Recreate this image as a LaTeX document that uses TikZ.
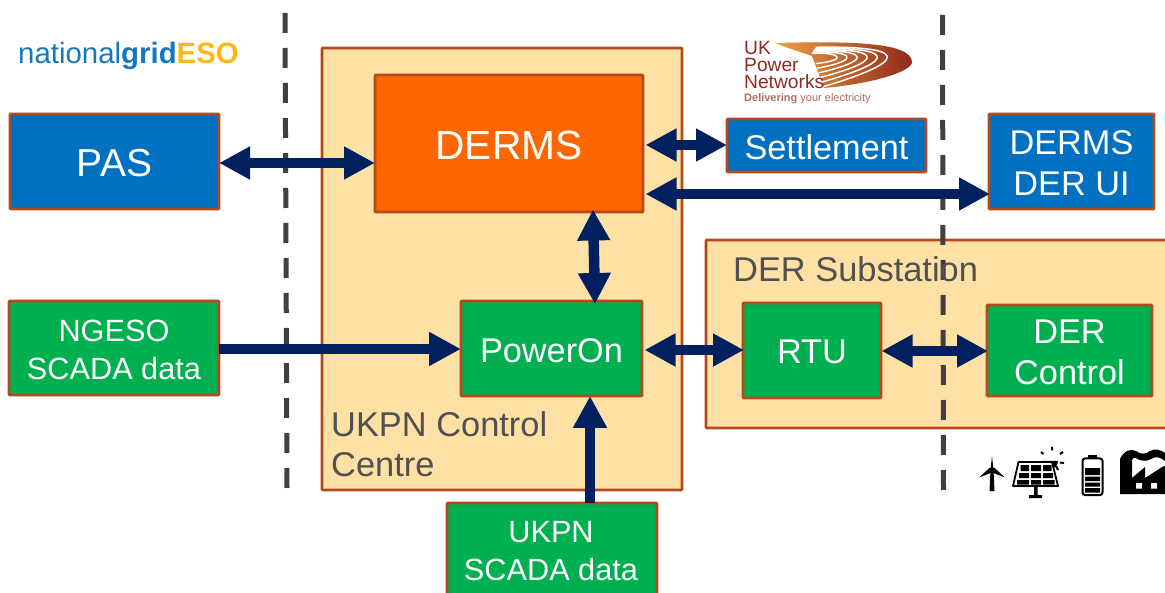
\documentclass[tikz,border=0pt]{standalone}
\usepackage{fontspec}
\setmainfont{Liberation Sans}
\usetikzlibrary{arrows.meta}
\definecolor{edgebr}{HTML}{B5491C}
\definecolor{bluebx}{HTML}{0070C0}
\definecolor{greenbx}{HTML}{00B050}
\definecolor{orangebx}{HTML}{FF6600}
\definecolor{sandbx}{HTML}{FFE1A6}
\definecolor{navyar}{HTML}{002060}
\definecolor{greytx}{HTML}{505050}
\definecolor{ngblue}{HTML}{1478C0}
\definecolor{ngyellow}{HTML}{FDB913}
\definecolor{ukred}{HTML}{8E2A1E}
\definecolor{ukor}{HTML}{F0A040}
\tikzset{
 x=1pt,y=-1pt,
 box/.style={draw=edgebr,line width=2.6pt,outer sep=0pt,anchor=north west,inner sep=0pt,align=center,text=white,rounded corners=0.8pt,font=\fontsize{34.3}{41}\selectfont},
 bluebox/.style={box,fill=bluebx},
 greenbox/.style={box,fill=greenbx},
 smalltext/.style={font=\fontsize{30.7}{37.5}\selectfont},
 zone/.style={box,fill=sandbx,text=greytx},
 dual/.style={navyar,line width=10.5pt,{Triangle[length=31pt,width=31pt]}-{Triangle[length=31pt,width=31pt]},shorten <=2.5pt,shorten >=-1pt},
 single/.style={navyar,line width=10.5pt,-{Triangle[length=32pt,width=32pt]}},
 divider/.style={draw=black!75,line width=5pt,dash pattern=on 20pt off 15pt},
 zonelabel/.style={text=greytx,anchor=west,align=left,inner sep=0pt,font=\fontsize{34.4}{40}\selectfont},
}
\newcommand{\rbox}[7]{\node[#1,minimum width=#4pt-#2pt,minimum height=#5pt-#3pt] (#6) at (#2,#3) {};
 \node[#1,draw=none,fill=none,anchor=center] (#6text) at ([yshift=-1.8pt]#6.center) {#7};}
\begin{document}
\begin{tikzpicture}
\useasboundingbox (0,0) rectangle (1165,593);
\clip (0,0) rectangle (1165,593);
% zones
\rbox{zone}{322}{48}{682}{490}{ukpn}{}
\rbox{zone}{706}{240}{1180}{428}{sub}{}
% dividers
\coordinate (d1a) at (285,13); \coordinate (d1b) at (287,488);
\coordinate (d2a) at (942.5,15); \coordinate (d2b) at (943.5,490);
\draw[divider] (d1a) -- (d1b);
\draw[divider] (d2a) -- (d2b);
% boxes
\rbox{bluebox,font=\fontsize{39}{44}\selectfont}{10}{114}{219}{209}{pas}{PAS}
\rbox{box,fill=orangebx,font=\fontsize{40.7}{46}\selectfont}{375}{75}{643}{212}{derms}{DERMS}
\rbox{bluebox}{727}{119}{926}{172}{settle}{Settlement}
\rbox{bluebox}{989}{114}{1154}{209}{derui}{DERMS\\DER UI}
\rbox{greenbox,smalltext}{9}{301}{219}{395}{ngeso}{NGESO\\SCADA data}
\rbox{greenbox}{461}{301}{642}{396}{poweron}{PowerOn}
\rbox{greenbox}{743}{303}{881}{398}{rtu}{RTU}
\rbox{greenbox}{987}{305}{1152}{396}{dercontrol}{DER\\Control}
\rbox{greenbox}{447}{503}{657}{610}{ukpnscada}{}
\node[text=white,align=center,inner sep=0pt,smalltext] (ukpnlabel) at (551,551) {UKPN\\SCADA data};
% zone labels
\node[zonelabel] (ukpnzone) at (331,444) {UKPN Control\\Centre};
\node[zonelabel] (subzone) at (733,269) {DER Substation};
% connectors
\draw[dual,shorten <=0pt,shorten >=0pt] (pas.east |- 0,163) -- (derms.west |- 0,163);
\draw[dual,shorten >=0pt] (derms.east |- 0,145) -- (settle.west |- 0,145);
\draw[dual] (derms.east |- 0,194) -- (derui.west |- 0,194);
\coordinate (dpa) at (593,209.5); \coordinate (dpb) at (595,304);
\draw[dual,shorten <=0pt,shorten >=0pt] (dpa) -- (dpb);
\draw[single] (ngeso.east |- 0,349) -- (poweron.west |- 0,349);
\draw[dual] (poweron.east |- 0,350) -- (rtu.west |- 0,350);
\draw[dual,shorten <=0.5pt] (rtu.east |- 0,351) -- (dercontrol.west |- 0,351);
\coordinate (usa) at (590,503); \coordinate (usb) at (590,396);
\draw[single] (usa) -- (usb);
% national grid ESO logo
\node[anchor=west,inner sep=0pt,font=\fontsize{29.4}{32}\selectfont] (nglogo) at (18,56)
 {\textcolor{ngblue}{national\textbf{grid}}\textcolor{ngyellow}{\textbf{ESO}}};
% UK Power Networks logo
\shade[left color=ukor,middle color=ukor!90!ukred,right color=ukred]
 (775,43) .. controls (815,42) and (850,42) .. (867,44) .. controls (895,46) and (912,52) .. (912,62)
 .. controls (912,72) and (870,84) .. (824,88) -- (812,56) .. controls (800,52) and (785,47) .. (775,43) -- cycle;
\foreach \k in {1,...,6}{
 \draw[white,line width=1.5pt]
 ({811+\k*0.8},{54.5-\k*1.2}) .. controls ({825+\k*13},{53-\k*1.2}) and ({838+\k*13},{60-\k*0.2}) .. ({814+\k*1.6},{59+\k*4.6});
}
\node[anchor=north west,inner sep=0pt,align=left,text=ukred,font=\fontsize{19.2}{16.8}\selectfont] (uklogo) at (744,41.5) {UK\\Power\\Networks};
\node[anchor=west,inner sep=0pt,text=ukred!70,font=\fontsize{11}{13}\selectfont] (uktag) at (744,98.5) {\textbf{Delivering} your electricity};
% icons
\fill (990.5,470) -- (992,456) -- (993.5,470) -- (994.5,491) -- (989.5,491) -- cycle;
\fill (992,470) circle (2.8);
\fill (990,467.5) -- (979,477.5) -- (992,472.5) -- cycle;
\fill (994,467.5) -- (1005,477.5) -- (992,472.5) -- cycle;
% solar panel
\fill (1042,461) arc[start angle=180,end angle=0,radius=8] -- cycle;
\draw[line width=2pt] (1052,450.5) -- (1052,447) (1043.5,454) -- (1041,452) (1060,454) -- (1063,452) (1060,462.5) -- (1064,463) (1056,466) -- (1058,470);
\draw[line width=1.8pt,line join=round,fill=white] (1018.5,462) -- (1052,462) -- (1058,486) -- (1013,486) -- cycle;
\fill (1020.5,465) rectangle (1029,471) (1031,465) rectangle (1041,471) (1043,465) rectangle (1051.5,471);
\fill (1019,473) rectangle (1029,478) (1031,473) rectangle (1041,478) (1043,473) rectangle (1053,478);
\fill (1017,480) rectangle (1029,484.5) (1031,480) rectangle (1041,484.5) (1043,480) rectangle (1054.5,484.5);
\fill (1034,487) rectangle (1037.5,496) (1029,495) rectangle (1042,498);
% battery
\draw[line width=2pt,rounded corners=2.5pt] (1082.5,458.5) rectangle (1102.5,495);
\fill (1088,455) rectangle (1097,459);
\fill (1085,468) rectangle (1100,475) (1085,476.5) rectangle (1100,481) (1085,482.5) rectangle (1100,486.5) (1085,488) rectangle (1100,492.5);
% factory
\fill (1120,494) -- (1120,459) .. controls (1124,451) and (1130,448) .. (1136,451) .. controls (1141,455) and (1146,454) .. (1150,451) .. controls (1155,448) and (1161,450) .. (1165,453) -- (1165,461) .. controls (1160,457) and (1156,456) .. (1151,459) .. controls (1146,462) and (1140,461) .. (1136,458) .. controls (1134,457) and (1133,458) .. (1132,460) -- (1132,478) -- (1145,467) -- (1145,478) -- (1163,466.5) -- (1165,466) -- (1165,494) -- cycle;
\fill[white] (1136,483) rectangle (1142,488.5) (1151,483) rectangle (1157,488.5);
\end{tikzpicture}
\end{document}
